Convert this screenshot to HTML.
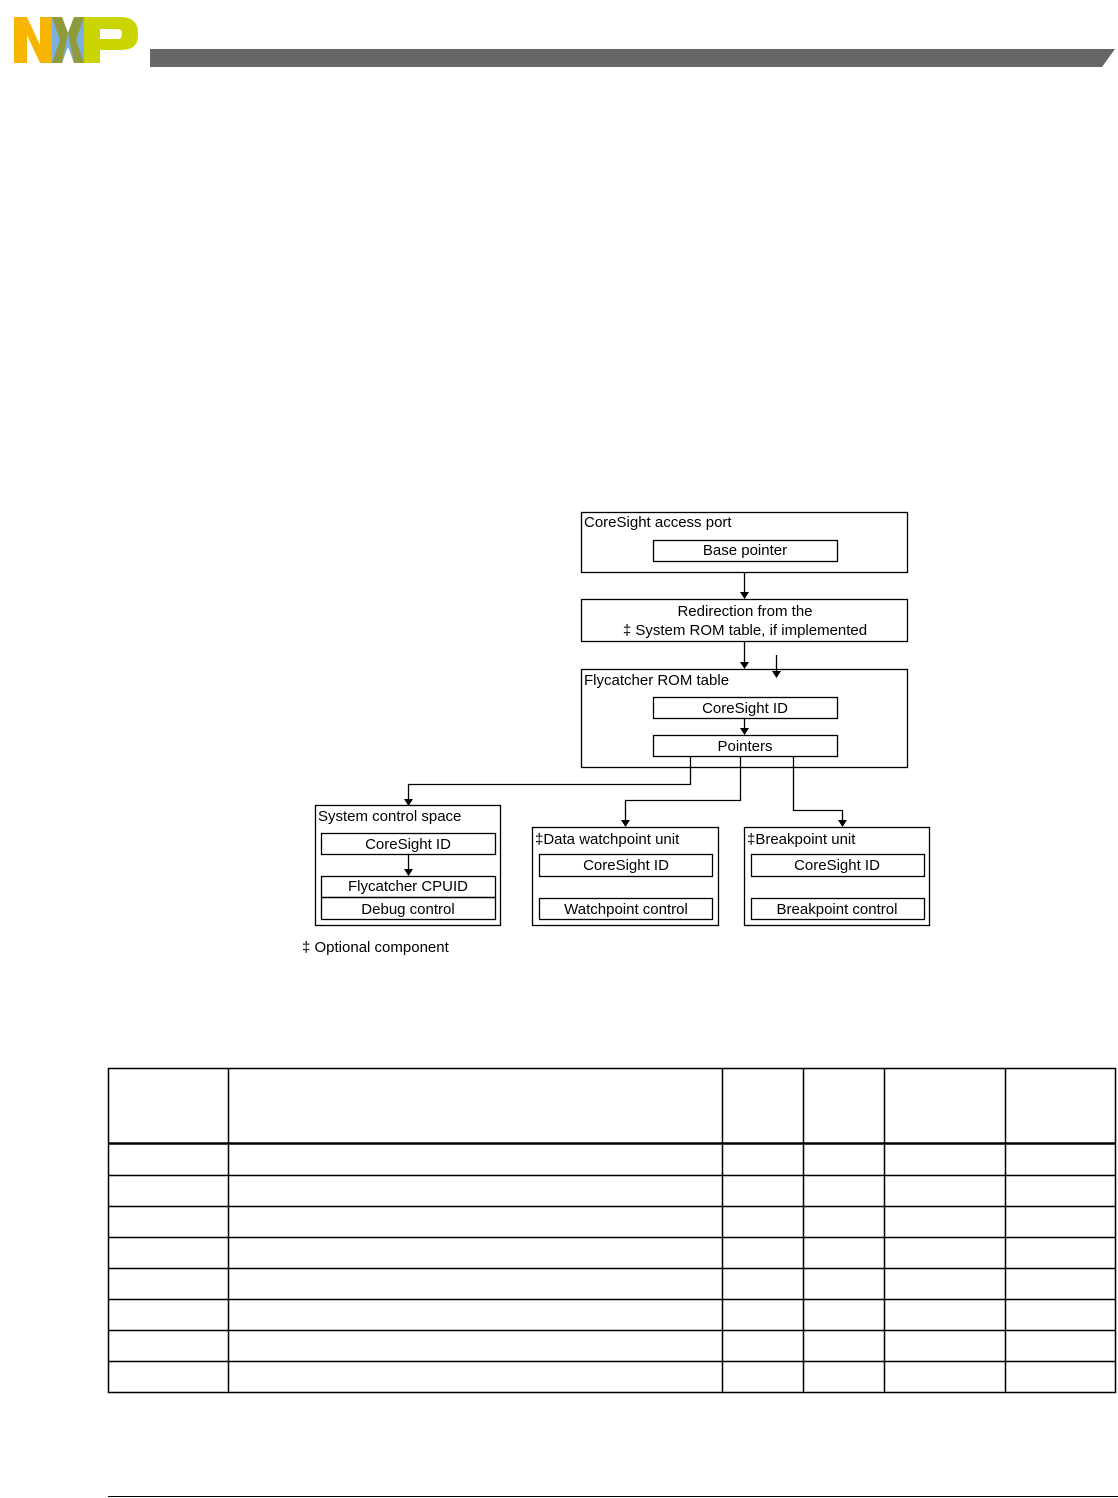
<!DOCTYPE html>
<html><head><meta charset="utf-8"><style>
html,body{margin:0;padding:0;background:#fff;}
svg{display:block;font-family:"Liberation Sans",sans-serif;}
</style></head><body>
<svg width="1118" height="1498" viewBox="0 0 1118 1498" xmlns="http://www.w3.org/2000/svg">
<polygon points="14,17 27,17 40,45 40,17 52,17 52,63 40,63 27,35 27,63 14,63" fill="#f7b500"/>
<polygon points="52,17 62,17 68,33 74,17 84,17 84,63 74,63 68,47 62,63 52,63" fill="#7cb0e0"/>
<polygon points="52,17 62,17 68,33 62,63 52,63 60,40" fill="#8f9a3a"/>
<polygon points="84,17 74,17 68,33 74,63 84,63 76,40" fill="#8f9a3a"/>
<path d="M84,17 H120 Q138,17 138,33 V36 Q138,50 120,50 H100 V63 H84 Z M100,29 V39 H118 Q122,39 122,34 Q122,29 118,29 Z" fill="#c9d400" fill-rule="evenodd"/>
<polygon points="150,49 1115,49 1102,67 150,67" fill="#676767"/>
<g fill="none" stroke="#000" stroke-width="1.3">
<rect x="581.5" y="512.5" width="326" height="60"/>
<rect x="653.5" y="540.5" width="184" height="21"/>
<rect x="581.5" y="599.5" width="326" height="42"/>
<rect x="581.5" y="669.5" width="326" height="98"/>
<rect x="653.5" y="697.5" width="184" height="21"/>
<rect x="653.5" y="735.5" width="184" height="21"/>
<rect x="315.5" y="805.5" width="185" height="120"/>
<rect x="321.5" y="833.5" width="174" height="21"/>
<rect x="321.5" y="876.5" width="174" height="21"/>
<rect x="321.5" y="897.5" width="174" height="22"/>
<rect x="532.5" y="827.5" width="186" height="98"/>
<rect x="539.5" y="854.5" width="173" height="22"/>
<rect x="539.5" y="898.5" width="173" height="21"/>
<rect x="744.5" y="827.5" width="185" height="98"/>
<rect x="751.5" y="854.5" width="173" height="22"/>
<rect x="751.5" y="898.5" width="173" height="21"/>
<path d="M744.5,572 V593 M744.5,641 V663 M776.5,655 V672 M744.5,718 V729 M408.5,854 V870 M690.5,756 V784.5 H408.5 V800 M740.5,756 V800.5 H625.5 V821 M793.5,756 V810.5 H842.5 V821"/>
</g>
<g fill="#000">
<polygon points="740,592 749,592 744.5,599"/>
<polygon points="740,662 749,662 744.5,669"/>
<polygon points="772,671 781,671 776.5,678"/>
<polygon points="740,728 749,728 744.5,735"/>
<polygon points="404,869 413,869 408.5,876"/>
<polygon points="404,799 413,799 408.5,806"/>
<polygon points="621,820 630,820 625.5,827"/>
<polygon points="838,820 847,820 842.5,827"/>
</g>
<g font-size="15" fill="#000">
<text x="584" y="527">CoreSight access port</text>
<text x="745" y="555" text-anchor="middle">Base pointer</text>
<text x="745" y="616" text-anchor="middle">Redirection from the</text>
<text x="745" y="635" text-anchor="middle">‡ System ROM table, if implemented</text>
<text x="584" y="685">Flycatcher ROM table</text>
<text x="745" y="713" text-anchor="middle">CoreSight ID</text>
<text x="745" y="751" text-anchor="middle">Pointers</text>
<text x="318" y="821">System control space</text>
<text x="408" y="849" text-anchor="middle">CoreSight ID</text>
<text x="408" y="891" text-anchor="middle">Flycatcher CPUID</text>
<text x="408" y="914" text-anchor="middle">Debug control</text>
<text x="535" y="844">‡Data watchpoint unit</text>
<text x="626" y="870" text-anchor="middle">CoreSight ID</text>
<text x="626" y="914" text-anchor="middle">Watchpoint control</text>
<text x="747" y="844">‡Breakpoint unit</text>
<text x="837" y="870" text-anchor="middle">CoreSight ID</text>
<text x="837" y="914" text-anchor="middle">Breakpoint control</text>
<text x="302" y="952">‡ Optional component</text>
</g>
<g fill="none" stroke="#000" stroke-width="1.5">
<rect x="108.5" y="1068.5" width="1007" height="324"/>
<path d="M228.5,1068 V1392 M722.5,1068 V1392 M803.5,1068 V1392 M884.5,1068 V1392 M1005.5,1068 V1392"/>
<path d="M108,1175.5 H1116 M108,1206.5 H1116 M108,1237.5 H1116 M108,1268.5 H1116 M108,1299.5 H1116 M108,1330.5 H1116 M108,1361.5 H1116"/>
</g>
<line x1="108" y1="1143.5" x2="1116" y2="1143.5" stroke="#000" stroke-width="2.5"/>
<line x1="108" y1="1496.5" x2="1118" y2="1496.5" stroke="#000" stroke-width="1"/>
</svg>
</body></html>
